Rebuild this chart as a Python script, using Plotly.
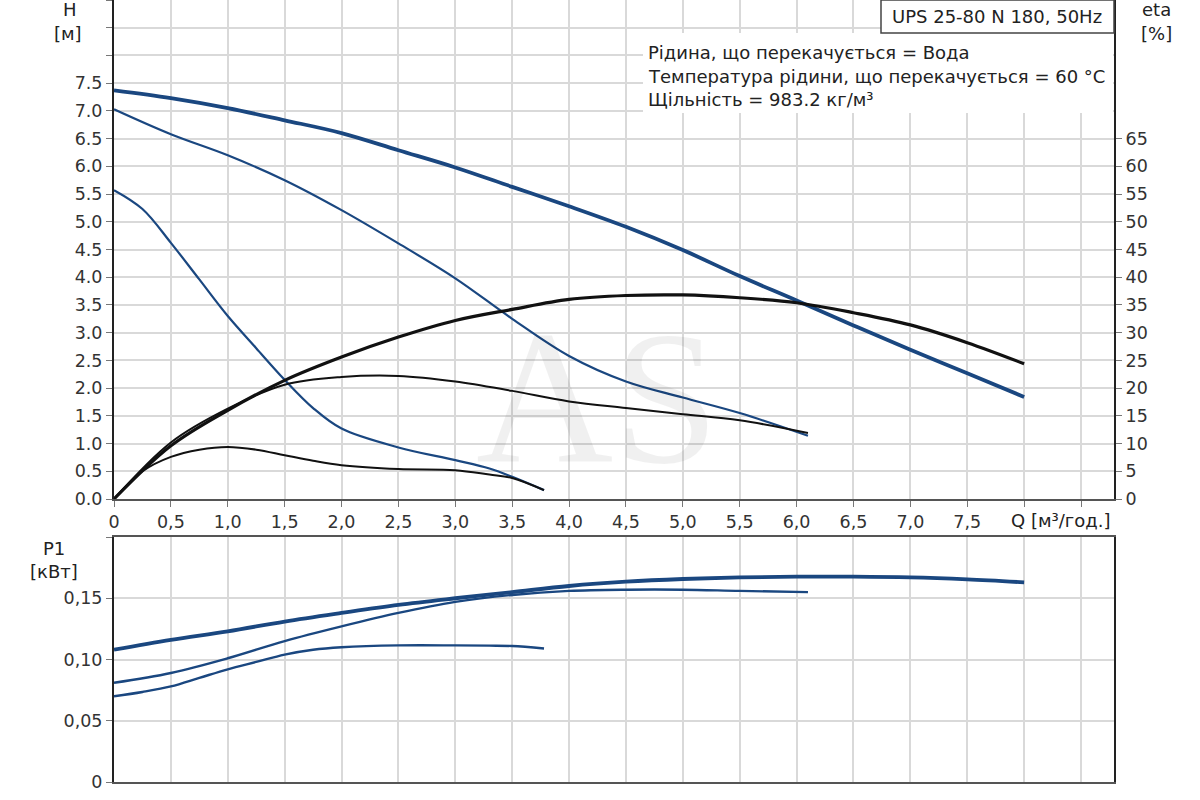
import plotly.graph_objects as go

# pump curves UPS 25-80 N 180, three speeds (s3 = max)
q_s3 = [0, 0.5, 1.0, 1.5, 2.0, 2.5, 3.0, 3.5, 4.0, 4.5, 5.0, 5.5, 6.0, 6.5, 7.0, 7.5, 8.0]
h_s3 = [7.37, 7.23, 7.05, 6.83, 6.60, 6.29, 5.98, 5.63, 5.28, 4.91, 4.49, 4.02, 3.58, 3.13, 2.69, 2.27, 1.84]
eta_s3 = [0, 9.6, 16.0, 21.4, 25.6, 29.2, 32.2, 34.2, 36.0, 36.7, 36.8, 36.3, 35.4, 33.6, 31.4, 28.2, 24.4]
p1_s3 = [0.108, 0.116, 0.123, 0.131, 0.138, 0.1446, 0.150, 0.155, 0.160, 0.1635, 0.1657, 0.167, 0.1676, 0.1676, 0.167, 0.1654, 0.163]

q_s2 = [0, 0.5, 1.0, 1.5, 2.0, 2.5, 3.0, 3.5, 4.0, 4.5, 5.0, 5.5, 6.1]
h_s2 = [7.03, 6.58, 6.20, 5.75, 5.21, 4.61, 3.98, 3.25, 2.58, 2.12, 1.83, 1.55, 1.14]
eta_s2 = [0, 10.2, 16.3, 20.6, 22.0, 22.2, 21.2, 19.5, 17.6, 16.4, 15.3, 14.2, 11.9]
p1_s2 = [0.081, 0.089, 0.101, 0.115, 0.127, 0.138, 0.147, 0.1527, 0.156, 0.157, 0.157, 0.156, 0.155]

q_s1 = [0, 0.25, 0.5, 0.75, 1.0, 1.25, 1.5, 1.75, 2.0, 2.5, 3.0, 3.3, 3.5, 3.78]
h_s1 = [5.57, 5.23, 4.62, 3.96, 3.30, 2.72, 2.15, 1.64, 1.27, 0.93, 0.70, 0.55, 0.40, 0.16]
eta_s1 = [0, 5.0, 7.6, 8.9, 9.4, 8.9, 7.9, 6.9, 6.1, 5.4, 5.2, 4.4, 3.8, 1.6]
p1_s1 = [0.070, 0.0735, 0.078, 0.085, 0.092, 0.098, 0.104, 0.108, 0.110, 0.1115, 0.1115, 0.1113, 0.111, 0.109]

# axis ticks
q_ticks = [i * 0.5 for i in range(18)]
q_labels = ["0"] + [f"{v:.1f}".replace(".", ",") for v in q_ticks[1:16]] + ["", ""]
h_ticks = [i * 0.5 for i in range(19)]
h_labels = [f"{v:.1f}" for v in h_ticks[:16]] + ["", "", ""]
eta_ticks = list(range(0, 70, 5))
p1_ticks = [0, 0.05, 0.10, 0.15, 0.20]
p1_labels = ["0", "0,05", "0,10", "0,15", ""]

info_lines = [
    "Рідина, що перекачується = Вода",
    "Температура рідини, що перекачується = 60 °C",
    "Щільність = 983.2 кг/м³",
]
title = "UPS 25-80 N 180, 50Hz"

BLUE = "#1a4780"
BLACK = "#111111"
GRID = "#d9d9d9"
FONT = "DejaVu Sans"

W, H = 1200, 800
L, R, T, B = 114, 86, 0, 18
PW, PH = W - L - R, H - T - B


def px(x):
    return (x - L) / PW


def py(y):
    return (H - B - y) / PH


fig = go.Figure()


def add(q, v, width, color, xa, ya):
    fig.add_trace(go.Scatter(x=q, y=v, mode="lines", xaxis=xa, yaxis=ya,
                             line=dict(color=color, width=width, shape="spline"),
                             showlegend=False, hoverinfo="skip"))


add(q_s1, h_s1, 2.2, BLUE, "x", "y")
add(q_s2, h_s2, 2.2, BLUE, "x", "y")
add(q_s3, h_s3, 3.8, BLUE, "x", "y")
add(q_s1, eta_s1, 2.0, BLACK, "x", "y2")
add(q_s2, eta_s2, 2.0, BLACK, "x", "y2")
add(q_s3, eta_s3, 3.2, BLACK, "x", "y2")
add(q_s1, p1_s1, 2.4, BLUE, "x2", "y3")
add(q_s2, p1_s2, 2.4, BLUE, "x2", "y3")
add(q_s3, p1_s3, 3.8, BLUE, "x2", "y3")

tickfont = dict(family=FONT, size=17.5, color="#333")
common_x = dict(range=[0, 8.79], tickvals=q_ticks, showgrid=True, gridcolor=GRID, gridwidth=2,
                ticks="outside", ticklen=6, tickcolor="#777", tickfont=tickfont, zeroline=False)

fig.update_layout(
    width=W, height=H,
    margin=dict(l=L, r=R, t=T, b=B, autoexpand=False),
    paper_bgcolor="white", plot_bgcolor="white",
    xaxis=dict(common_x, anchor="y", ticktext=q_labels, showline=True, linecolor="#555", linewidth=2),
    yaxis=dict(domain=[py(499), 1], range=[0, 9], tickvals=h_ticks, ticktext=h_labels,
               showgrid=True, gridcolor=GRID, gridwidth=2, zeroline=False,
               showline=True, linecolor="#222", linewidth=2,
               ticks="outside", ticklen=6, tickcolor="#777", tickfont=tickfont),
    yaxis2=dict(overlaying="y", side="right", range=[0, 90], tickvals=eta_ticks,
                showgrid=False, zeroline=False, showline=True, linecolor="#222", linewidth=2,
                ticks="outside", ticklen=6, tickcolor="#777", tickfont=tickfont),
    xaxis2=dict(common_x, anchor="y3", showticklabels=False, ticks="",
                showline=True, mirror=True, linecolor="#555", linewidth=2),
    yaxis3=dict(domain=[0, py(537)], range=[0, 0.2], tickvals=p1_ticks, ticktext=p1_labels,
                showgrid=True, gridcolor=GRID, gridwidth=2, zeroline=False,
                showline=True, mirror=True, linecolor="#222", linewidth=2,
                ticks="outside", ticklen=6, tickcolor="#777", tickfont=tickfont),
)

# white area behind the info text and the title box
fig.add_shape(type="rect", xref="paper", yref="paper", x0=px(643), x1=px(1113), y0=py(113), y1=py(33),
              fillcolor="white", line=dict(width=0), layer="above")
fig.add_shape(type="rect", xref="paper", yref="paper", x0=px(881), x1=px(1114), y0=py(33), y1=py(0),
              fillcolor="white", line=dict(color="#444", width=1.5), layer="above")

ann_font = dict(family=FONT, size=18, color="#222")


def label(text, x, y, anchor="center"):
    fig.add_annotation(text=text, xref="paper", yref="paper", x=px(x), y=py(y),
                       xanchor=anchor, yanchor="middle", showarrow=False, font=ann_font)


label(title, 997, 16)
for i, line in enumerate(info_lines):
    label(line, 646, 52 + i * 24, "left")
label("H", 70, 9)
label("[м]", 68, 33)
label("eta", 1156, 10)
label("[%]", 1156, 33)
label("P1", 54, 548)
label("[кВт]", 54, 571)
label("Q [м³/год.]", 1009, 520, "left")

# faint watermark
fig.add_annotation(text="AS", xref="paper", yref="paper", x=px(597), y=py(398),
                   xanchor="center", yanchor="middle", showarrow=False,
                   font=dict(family="Liberation Serif", size=190, color="rgba(0,0,0,0.06)"))

# page body has a default 8px margin; drop it so the chart sits at 0,0
fig.write_html("out.html", config={"displayModeBar": False},
               post_script="document.body.style.margin='0';")
